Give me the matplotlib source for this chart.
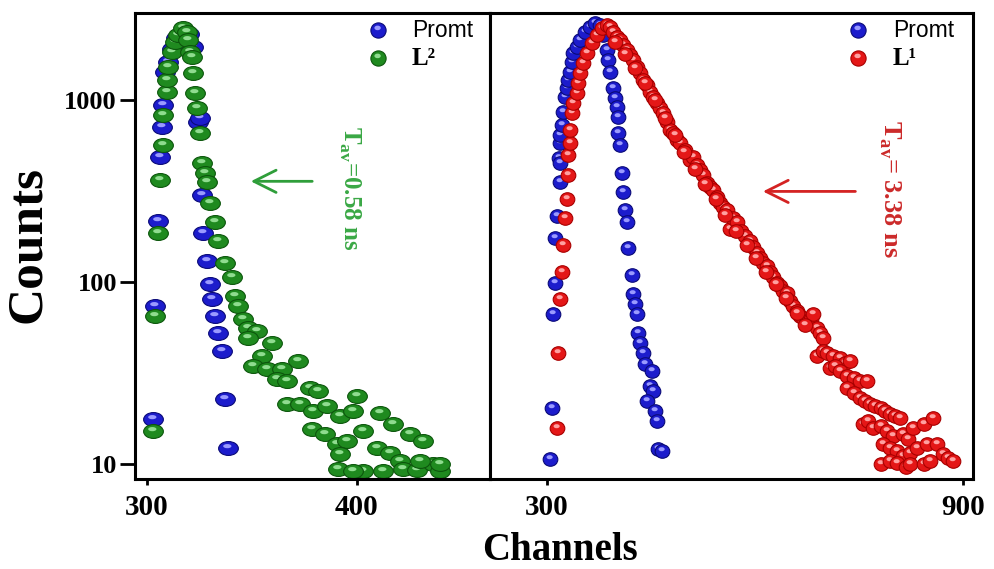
import matplotlib
matplotlib.use('Agg')
import matplotlib.pyplot as plt
from matplotlib.markers import MarkerStyle
from matplotlib.transforms import Affine2D
from matplotlib.ticker import NullLocator

plt.rcParams['font.family'] = ['Liberation Serif', 'DejaVu Serif']
plt.rcParams['font.weight'] = 'bold'
plt.rcParams['mathtext.fontset'] = 'custom'
plt.rcParams['mathtext.rm'] = 'Liberation Serif'
plt.rcParams['mathtext.bf'] = 'Liberation Serif:bold'

# ---- left panel: prompt and L2 decay ----
promt_left_x = [302.9, 303.8, 305.3, 306.2, 307.2, 307.6, 308.6, 310.0, 312.0, 314.0,
                317.0, 320.0, 322.0, 324.3, 325.3, 326.2, 326.7, 328.6, 330.0, 331.0,
                332.4, 333.8, 335.7, 337.2, 338.6]
promt_left_y = [17.7, 74, 218, 485, 709, 939, 1426, 1619, 1900, 2200,
                2400, 2300, 1950, 757, 795, 300, 187, 131, 98, 81,
                65, 52.7, 42, 22.8, 12.2]

l2_x = [302.9, 303.8, 305.3, 306.2, 307.6, 307.6, 309.5, 309.5, 310.0, 311.9,
        313.3, 314.8, 317.2, 319.1, 319.5, 320.5, 321.4, 321.9, 322.9, 323.8,
        325.3, 326.2, 327.6, 328.6, 330.0, 332.4, 333.8, 337.2, 340.5, 341.9,
        343.3, 345.7, 348.1, 352.4, 348.1, 359.5, 354.8, 350.5, 371.9, 357.2,
        364.3, 361.9, 366.7, 377.6, 381.4, 366.7, 372.9, 400.0, 379.1, 385.7,
        391.9, 398.1, 411.0, 378.6, 384.8, 390.5, 395.3, 402.9, 417.2, 425.2,
        431.4, 409.5, 415.7, 420.5, 391.9, 391.0, 402.9, 412.4, 421.9, 428.6,
        436.2, 439.5, 398.1, 439.5, 430.0]
l2_y = [15.2, 65.4, 185, 362, 565, 827, 1107, 1289, 1520, 1839,
        2087, 2280, 2495, 2373, 2141, 1839, 1726, 1408, 1093, 904,
        657, 450, 396, 353, 271, 213, 169, 128, 106, 84,
        74, 63, 56, 54, 49.5, 46.4, 39.4, 34.7, 36.9, 33.4,
        33.4, 29.4, 28.6, 26.2, 25.2, 21.4, 21.4, 23.7, 19.6, 20.9,
        18.4, 19.6, 19.1, 15.6, 14.6, 12.9, 13.4, 15.2, 16.6, 14.6,
        13.4, 12.2, 11.5, 10.4, 11.3, 9.4, 9.1, 9.1, 9.4, 9.3,
        10.0, 9.1, 9.1, 10.0, 10.4]

# ---- right panel: prompt and L1 decay ----
promt_right_x = [304.3, 307.2, 308.6, 311.5, 311.5, 314.4, 317.0, 318.7, 318.7, 318.7,
                 318.7, 321.6, 323.0, 325.9, 328.8, 330.2, 333.1, 336.0, 337.5, 343.2,
                 347.6, 354.8, 362.0, 369.2, 376.4, 380.8, 386.5, 388.0, 390.9, 395.2,
                 398.1, 401.0, 402.4, 402.4, 405.3, 408.2, 409.6, 412.5, 415.4, 416.8,
                 422.6, 424.1, 427.0, 429.8, 431.3, 434.2, 438.5, 441.4, 451.5, 448.6,
                 453.0, 444.3, 455.8, 458.7, 460.1, 465.9]
promt_right_y = [10.7, 20.4, 67, 99, 174, 232, 479, 353, 450, 580,
                 641, 728, 859, 1039, 1164, 1289, 1426, 1619, 1815, 1959,
                 2141, 2373, 2525, 2655, 2588, 2280, 1886, 1661, 1426, 1164,
                 1026, 915, 806, 657, 565, 396, 311, 248, 213, 153,
                 109, 86, 76, 67, 52.7, 46.4, 40.9, 35.6, 32.5, 26.9,
                 25.2, 22.2, 19.6, 17.3, 12.1, 11.8]

l1_x = [314.4, 315.8, 318.7, 321.6, 323.0, 325.9, 328.8, 330.2, 330.2, 333.1,
        333.1, 336.0, 337.5, 343.2, 344.6, 347.6, 351.9, 357.7, 364.9, 372.1,
        379.3, 386.5,
        391, 395, 401, 405, 410, 415, 420, 424, 430, 434,
        439, 444, 449, 453, 459, 463, 467, 473, 477, 482,
        488, 492, 499, 506, 511, 516, 521, 525, 531, 535,
        540, 545, 550, 554, 560, 564, 568, 574, 579, 586,
        593, 597, 603, 607, 612, 617, 622, 626, 632, 636,
        641, 646, 651, 655, 661, 665, 669, 675, 680, 684,
        690, 694, 698,
        690, 698, 704, 713, 723, 730, 737, 708, 716, 723,
        733, 742, 752, 762, 733, 742, 752, 759, 766, 773,
        781, 788, 795, 802, 809, 756, 763, 770, 781, 791,
        799, 814, 821, 828, 843, 857, 785, 795, 805, 814,
        824, 834, 848, 863, 871, 879, 886, 781, 795, 805,
        817, 824, 843, 853,
        398, 412, 427, 441, 456, 470, 485, 498, 513, 528,
        543, 557, 572, 588, 602, 616, 630, 645, 660, 672]
l1_y = [15.8, 40.9, 81, 113, 159, 224, 288, 386, 498, 580,
        684, 847, 963, 1093, 1241, 1408, 1600, 1815, 2061, 2280,
        2495, 2588,
        2523, 2371, 2225, 2143, 2011, 1886, 1770, 1661, 1520, 1408,
        1289, 1209, 1107, 1039, 963, 904, 848, 757, 684, 658,
        602, 580, 530, 467, 485, 438, 412, 386, 349, 332,
        319, 292, 271, 257, 248, 197, 224, 213, 192, 180,
        169, 155, 145, 135, 128, 123, 113, 106, 99.4, 95.7,
        89.8, 87.5, 79.1, 74.2, 69.7, 65.4, 63.8, 61.4, 63.0, 67.1,
        56.2, 52.7, 49.5,
        39.4, 42.0, 40.9, 39.4, 38.4, 36.0, 36.9, 33.8, 34.7, 32.5,
        30.5, 29.8, 28.7, 28.7, 26.2, 24.6, 23.1, 22.2, 21.4, 20.9,
        20.4, 19.6, 18.9, 18.4, 17.9, 16.6, 17.3, 15.8, 16.2, 15.2,
        14.3, 14.6, 13.7, 15.8, 16.6, 17.9, 12.9, 12.3, 11.8, 11.1,
        11.5, 12.3, 12.9, 12.9, 11.4, 10.8, 10.4, 10.0, 10.4, 10.1,
        9.6, 10.0, 10.0, 10.4,
        2100, 1800, 1500, 1250, 1000, 800, 640, 520, 420, 345,
        285, 235, 190, 160, 135, 114, 97, 82, 68, 58]

y_ticks = [10, 100, 1000]
y_tick_labels = ['10', '100', '1000']
left_x_ticks = [300, 400]
right_x_ticks = [300, 900]

BLUE = ('#1c1ccc', '#0a0a78', '#9a9aff')
GREEN = ('#1f8a1f', '#0c560c', '#8fdc8f')
RED = ('#e41717', '#a80000', '#ffa0a0')


def draw_balls(ax, xs, ys, colors, size, stretch, z, transform=None):
    face, edge, shine = colors
    body = MarkerStyle('o', transform=Affine2D().scale(stretch, 1.0))
    glint = MarkerStyle('o', transform=Affine2D().scale(0.42, 0.3)
                        .translate(-0.06, 0.17).scale(stretch, 1.0))
    tr = transform if transform is not None else ax.transData
    step = 0.001
    for i, (x, y) in enumerate(zip(xs, ys)):
        ax.scatter([x], [y], s=size, marker=body, c=face, edgecolors=edge,
                   linewidths=0.8, zorder=z + i * step, transform=tr)
        ax.scatter([x], [y], s=size, marker=glint, c=shine, linewidths=0,
                   zorder=z + i * step + step / 2, transform=tr)


def style_axis(ax, xlim, xticks):
    ax.set_yscale('log')
    ax.set_ylim(8.27, 3015)
    ax.set_xlim(*xlim)
    ax.yaxis.set_minor_locator(NullLocator())
    ax.xaxis.set_minor_locator(NullLocator())
    ax.set_xticks(xticks, [str(t) for t in xticks])
    ax.tick_params(axis='x', direction='out', length=4, width=2, pad=7, labelsize=21)
    for sp in ax.spines.values():
        sp.set_linewidth(2.2)
        sp.set_zorder(20)


def legend(ax, x_mark, x_text, second_label, second_colors):
    draw_balls(ax, [x_mark], [0.963], BLUE, 120, 1.0, 30, ax.transAxes)
    draw_balls(ax, [x_mark], [0.903], second_colors, 120, 1.0, 30, ax.transAxes)
    ax.text(x_text, 0.963, 'Promt', transform=ax.transAxes, family='Liberation Sans',
            weight='normal', fontsize=16.5, va='center', ha='left')
    ax.text(x_text, 0.903, second_label, transform=ax.transAxes, fontsize=18,
            va='center', ha='left')


fig = plt.figure(figsize=(9.94, 5.69), dpi=100)
ax_left = fig.add_axes([0.1358, 0.1582, 0.3571, 0.819])
ax_right = fig.add_axes([0.4930, 0.1582, 0.4859, 0.819])

# left panel
style_axis(ax_left, (294.3, 463.3), left_x_ticks)
ax_left.set_yticks(y_ticks, y_tick_labels)
ax_left.tick_params(axis='y', direction='out', length=11, width=2, pad=2, labelsize=19)
draw_balls(ax_left, promt_left_x, promt_left_y, BLUE, 100, 1.42, 3)
draw_balls(ax_left, l2_x, l2_y, GREEN, 100, 1.42, 5)
ax_left.annotate('', xy=(348.1, 358), xytext=(380.0, 358),
                 arrowprops=dict(arrowstyle='->,head_length=0.8,head_width=0.4',
                                 color='#2f9e3a', lw=2, mutation_scale=20))
ax_left.text(396.7, 327, r'T$_{\mathbf{av}}$=0.58 ns', rotation=-90, color='#3aa845',
             fontsize=18, ha='center', va='center')
legend(ax_left, 0.685, 0.780, 'L²', GREEN)

# right panel
style_axis(ax_right, (217.7, 914.4), right_x_ticks)
ax_right.set_yticks([])
ax_right.tick_params(axis='y', left=False, labelleft=False)
draw_balls(ax_right, promt_right_x, promt_right_y, BLUE, 95, 1.08, 3)
draw_balls(ax_right, l1_x, l1_y, RED, 95, 1.08, 5)
ax_right.annotate('', xy=(607.3, 315), xytext=(748.7, 315),
                  arrowprops=dict(arrowstyle='->,head_length=0.8,head_width=0.4',
                                  color='#d42222', lw=2, mutation_scale=20))
ax_right.text(794.9, 327, r'T$_{\mathbf{av}}$= 3.38 ns', rotation=-90, color='#cc2a2a',
              fontsize=19, ha='center', va='center')
legend(ax_right, 0.762, 0.834, 'L¹', RED)

fig.text(0.563, 0.032, 'Channels', ha='center', va='center', fontsize=28)
fig.text(0.028, 0.571, 'Counts', ha='center', va='center', rotation=90, fontsize=37)

fig.savefig('out.png', dpi=100)
